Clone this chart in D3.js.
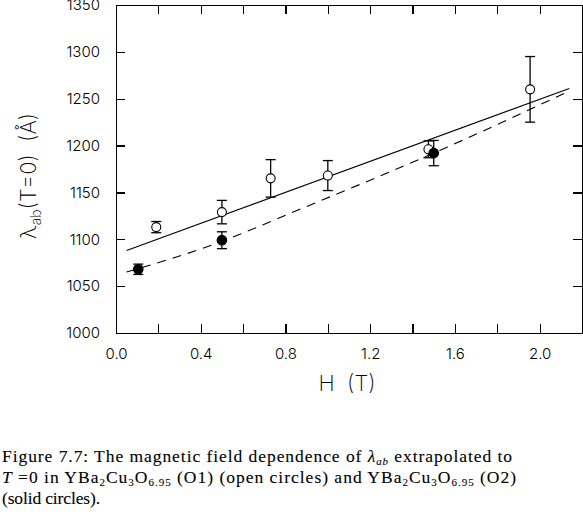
<!DOCTYPE html>
<html>
<head>
<meta charset="utf-8">
<script src="https://cdn.jsdelivr.net/npm/d3@7"></script>
<style>
  body { margin: 0; background: #fff; }
  .axis path, .axis line { stroke: #000; stroke-width: 1.3; shape-rendering: crispEdges; }
  .axis text { font-family: "Inter", "DejaVu Sans", sans-serif; font-weight: 300; font-size: 15px; fill: #000; }
</style>
</head>
<body>
<div id="chart"></div>
<script>
// Open circles: YBa2Cu3O6.95 (O1)
var o1Field = [0.19, 0.50, 0.73, 1.00, 1.475, 1.955];
var o1Lambda = [1113, 1129, 1165, 1168, 1196, 1260];
var o1Error = [6, 12.5, 20, 16, 9, 35];

// Solid circles: YBa2Cu3O6.95 (O2)
var o2Field = [0.105, 0.50, 1.50];
var o2Lambda = [1068, 1099, 1192];
var o2Error = [5.5, 9, 13.5];

// Fit curves (solid line for O1, dashed for O2)
var fitO1Field = [0.05, 2.14];
var fitO1Lambda = [1088, 1261];
var fitO2Field = [0.05, 0.43, 0.90, 1.56, 2.12];
var fitO2Lambda = [1065, 1092, 1135, 1198, 1256];

// Axis ticks
var xTicks = [0, 0.2, 0.4, 0.6, 0.8, 1.0, 1.2, 1.4, 1.6, 1.8, 2.0, 2.2];
var xTickLabels = ["0.0", "", "0.4", "", "0.8", "", "1.2", "", "1.6", "", "2.0", ""];
var yTicks = [1000, 1050, 1100, 1150, 1200, 1250, 1300, 1350];

var svgWidth = 583;
var svgHeight = 515;

var margin = { top: 5, right: 1, bottom: 182, left: 116 };
var width = svgWidth - margin.left - margin.right;
var height = svgHeight - margin.top - margin.bottom;

var svg = d3
  .select("#chart")
  .append("svg")
  .attr("width", svgWidth)
  .attr("height", svgHeight);

svg.append("rect").attr("width", svgWidth).attr("height", svgHeight).attr("fill", "#fff");

var chartGroup = svg
  .append("g")
  .attr("transform", `translate(${margin.left}, ${margin.top})`);

var xScale = d3.scaleLinear().domain([0, 2.2]).range([0, width]);
var yScale = d3.scaleLinear().domain([1000, 1350]).range([height, 0]);

//Axes with inward ticks on all four sides
var bottomAxis = d3.axisBottom(xScale)
  .tickValues(xTicks)
  .tickFormat((d, i) => xTickLabels[i])
  .tickSizeInner(-9)
  .tickSizeOuter(0)
  .tickPadding(15);

var topAxis = d3.axisTop(xScale)
  .tickValues(xTicks.slice(0, -1))
  .tickFormat("")
  .tickSizeInner(-9)
  .tickSizeOuter(0);

var leftAxis = d3.axisLeft(yScale)
  .tickValues(yTicks)
  .tickFormat(d3.format("d"))
  .tickSizeInner(-9)
  .tickSizeOuter(0)
  .tickPadding(16);

var rightAxis = d3.axisRight(yScale)
  .tickValues(yTicks.slice(1, -1))
  .tickFormat("")
  .tickSizeInner(-9)
  .tickSizeOuter(0);

chartGroup.append("g").attr("class", "axis").attr("transform", `translate(0, ${height})`).call(bottomAxis);
chartGroup.append("g").attr("class", "axis").call(topAxis);
chartGroup.append("g").attr("class", "axis").call(leftAxis);
chartGroup.append("g").attr("class", "axis").attr("transform", `translate(${width}, 0)`).call(rightAxis);

chartGroup.selectAll(".axis .tick line").style("stroke-width", 1.2);

//Fit lines
var line = d3.line()
  .x((d) => xScale(d[0]))
  .y((d) => yScale(d[1]));

chartGroup.append("path")
  .datum(d3.zip(fitO1Field, fitO1Lambda))
  .attr("d", line)
  .attr("fill", "none")
  .attr("stroke", "#000")
  .attr("stroke-width", 1.1);

chartGroup.append("path")
  .datum(d3.zip(fitO2Field, fitO2Lambda))
  .attr("d", d3.line().curve(d3.curveMonotoneX).x((d) => xScale(d[0])).y((d) => yScale(d[1])))
  .attr("fill", "none")
  .attr("stroke", "#000")
  .attr("stroke-width", 1.1)
  .attr("stroke-dasharray", "9,7");

//Error bars and markers
function drawSeries(fields, lambdas, errors, r, fill) {
  var data = fields.map((f, i) => ({ h: f, l: lambdas[i], e: errors[i] }));
  var group = chartGroup.append("g");
  var bars = group.selectAll("g.err").data(data).enter().append("g").attr("class", "err");
  bars.append("line")
    .attr("x1", (d) => xScale(d.h))
    .attr("x2", (d) => xScale(d.h))
    .attr("y1", (d) => yScale(d.l - d.e))
    .attr("y2", (d) => yScale(d.l + d.e));
  bars.append("line")
    .attr("x1", (d) => xScale(d.h) - 5)
    .attr("x2", (d) => xScale(d.h) + 5)
    .attr("y1", (d) => yScale(d.l + d.e))
    .attr("y2", (d) => yScale(d.l + d.e));
  bars.append("line")
    .attr("x1", (d) => xScale(d.h) - 5)
    .attr("x2", (d) => xScale(d.h) + 5)
    .attr("y1", (d) => yScale(d.l - d.e))
    .attr("y2", (d) => yScale(d.l - d.e));
  bars.selectAll("line").attr("stroke", "#000").attr("stroke-width", 1.3);

  group.selectAll("circle").data(data).enter().append("circle")
    .attr("cx", (d) => xScale(d.h))
    .attr("cy", (d) => yScale(d.l))
    .attr("r", r)
    .attr("fill", fill)
    .attr("stroke", "#000")
    .attr("stroke-width", 1.1);
}

drawSeries(o1Field, o1Lambda, o1Error, 4.5, "#fff");
drawSeries(o2Field, o2Lambda, o2Error, 4.8, "#000");

//Axis titles
var sansTitle = "font-family: 'Inter', 'DejaVu Sans', sans-serif; font-weight: 200; font-size: 22px;";

svg.append("text")
  .attr("x", 347)
  .attr("y", 391)
  .attr("text-anchor", "middle")
  .attr("style", sansTitle)
  .attr("xml:space", "preserve")
  .text("H  (T)");

var yTitle = svg.append("text")
  .attr("transform", "translate(36, 176) rotate(-90)")
  .attr("text-anchor", "middle")
  .attr("style", sansTitle)
  .attr("xml:space", "preserve");
yTitle.append("tspan").text("λ");
yTitle.append("tspan").attr("dy", 5).style("font-size", "14px").text("ab");
yTitle.append("tspan").attr("dy", -5).text("(T=0)  (Å)");

//Caption
var capStyle = "font-family: 'Liberation Serif', 'DejaVu Serif', serif; font-size: 17.5px; stroke: #000; stroke-width: 0.1;";

var cap1 = svg.append("text").attr("x", 2).attr("y", 462).attr("style", capStyle)
  .attr("textLength", 510).attr("lengthAdjust", "spacing");
cap1.append("tspan").text("Figure 7.7:  The magnetic field dependence of ");
cap1.append("tspan").style("font-style", "italic").text("λ");
cap1.append("tspan").attr("dy", 3).style("font-style", "italic").style("font-size", "11px").text("ab");
cap1.append("tspan").attr("dy", -3).text(" extrapolated to");

var cap2 = svg.append("text").attr("x", 2).attr("y", 483).attr("style", capStyle)
  .attr("textLength", 514).attr("lengthAdjust", "spacing");
cap2.append("tspan").style("font-style", "italic").text("T");
cap2.append("tspan").text(" =0 in YBa");
cap2.append("tspan").attr("dy", 3).style("font-size", "11px").text("2");
cap2.append("tspan").attr("dy", -3).text("Cu");
cap2.append("tspan").attr("dy", 3).style("font-size", "11px").text("3");
cap2.append("tspan").attr("dy", -3).text("O");
cap2.append("tspan").attr("dy", 3).style("font-size", "11px").text("6.95");
cap2.append("tspan").attr("dy", -3).text(" (O1) (open circles) and YBa");
cap2.append("tspan").attr("dy", 3).style("font-size", "11px").text("2");
cap2.append("tspan").attr("dy", -3).text("Cu");
cap2.append("tspan").attr("dy", 3).style("font-size", "11px").text("3");
cap2.append("tspan").attr("dy", -3).text("O");
cap2.append("tspan").attr("dy", 3).style("font-size", "11px").text("6.95");
cap2.append("tspan").attr("dy", -3).text(" (O2)");

svg.append("text").attr("x", 2).attr("y", 504).attr("style", capStyle)
  .attr("textLength", 98).attr("lengthAdjust", "spacing")
  .text("(solid circles).");
</script>
</body>
</html>
